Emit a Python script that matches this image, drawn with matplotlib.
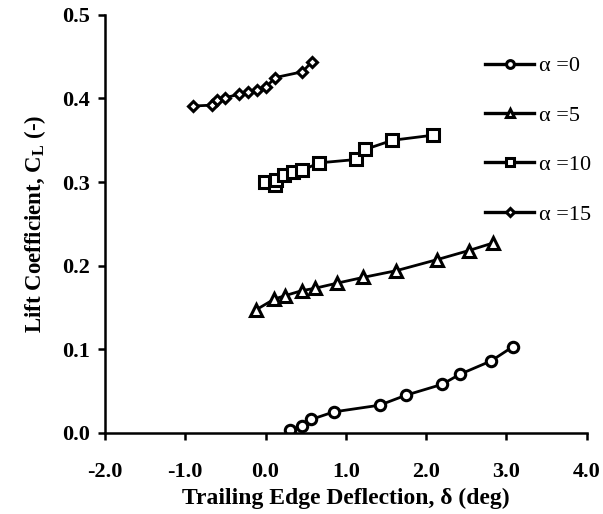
import numpy as np
import matplotlib.pyplot as plt

plt.rcParams['font.family'] = ['Liberation Serif', 'DejaVu Serif']
plt.rcParams['mathtext.fontset'] = 'custom'
plt.rcParams['mathtext.rm'] = 'Liberation Serif'
plt.rcParams['mathtext.bf'] = 'Liberation Serif:bold'

# alpha = 0
d0 = [0.30, 0.45, 0.57, 0.85, 1.42, 1.75, 2.20, 2.42, 2.81, 3.08]
cl0 = [0.003, 0.008, 0.016, 0.025, 0.033, 0.045, 0.058, 0.070, 0.086, 0.103]
# alpha = 5
d5 = [-0.12, 0.11, 0.24, 0.45, 0.62, 0.89, 1.22, 1.63, 2.13, 2.53, 2.83]
cl5 = [0.147, 0.160, 0.164, 0.170, 0.173, 0.179, 0.186, 0.194, 0.207, 0.218, 0.227]
# alpha = 10
d10 = [-0.01, 0.12, 0.13, 0.23, 0.34, 0.45, 0.67, 1.13, 1.24, 1.58, 2.08]
cl10 = [0.300, 0.297, 0.302, 0.308, 0.312, 0.314, 0.323, 0.327, 0.339, 0.350, 0.356]
# alpha = 15
d15 = [-0.90, -0.67, -0.61, -0.50, -0.33, -0.22, -0.10, 0.01, 0.12, 0.46, 0.58]
cl15 = [0.391, 0.392, 0.398, 0.401, 0.405, 0.408, 0.410, 0.414, 0.425, 0.432, 0.444]

series = [(d0, cl0, 'o', 7.5, 'α =0'),
          (d5, cl5, '^', 8, 'α =5'),
          (d10, cl10, 's', 8.5, 'α =10'),
          (d15, cl15, 'D', 5.5, 'α =15')]

fig = plt.figure(figsize=(6.03, 5.14), dpi=100)
ax = fig.add_axes([0.174, 0.158, 0.799, 0.813])

for d, cl, m, ms, lab in series:
    ax.plot(d, cl, color='black', lw=2, marker=m, ms=ms, mfc='white',
            mec='black', mew=2.2, label=lab)

ax.set_xlim(-2.0, 4.0)
ax.set_ylim(0.0, 0.5)
ax.set_xticks(np.arange(-2.0, 4.01, 1.0))
ax.set_yticks(np.arange(0.0, 0.51, 0.1))
ax.set_xticklabels(['%.1f' % v for v in np.arange(-2.0, 4.01, 1.0)])
ax.set_yticklabels(['%.1f' % v for v in np.arange(0.0, 0.51, 0.1)])
for s in ['top', 'right']:
    ax.spines[s].set_visible(False)
for s in ['left', 'bottom']:
    ax.spines[s].set_linewidth(1.8)
ax.tick_params(direction='out', length=5, width=1.8, labelsize=16)
ax.tick_params(axis='x', pad=16)
ax.tick_params(axis='y', pad=6)
for t in ax.get_xticklabels() + ax.get_yticklabels():
    t.set_fontweight('bold')

ax.set_xlabel('Trailing Edge Deflection, δ (deg)', fontsize=17,
              fontweight='bold', labelpad=4)
ax.set_ylabel(r'Lift Coefficient, C$_\mathbf{L}$ (-)', fontsize=16.5,
              fontweight='bold', labelpad=10)

leg = ax.legend(loc='upper right', bbox_to_anchor=(1.05, 0.95), frameon=False,
                fontsize=16, handlelength=2.2, labelspacing=1.3,
                handletextpad=0.2, markerscale=0.75)
for h in leg.legend_handles:
    h.set_linewidth(2.4)

plt.savefig('out.png', dpi=100)
